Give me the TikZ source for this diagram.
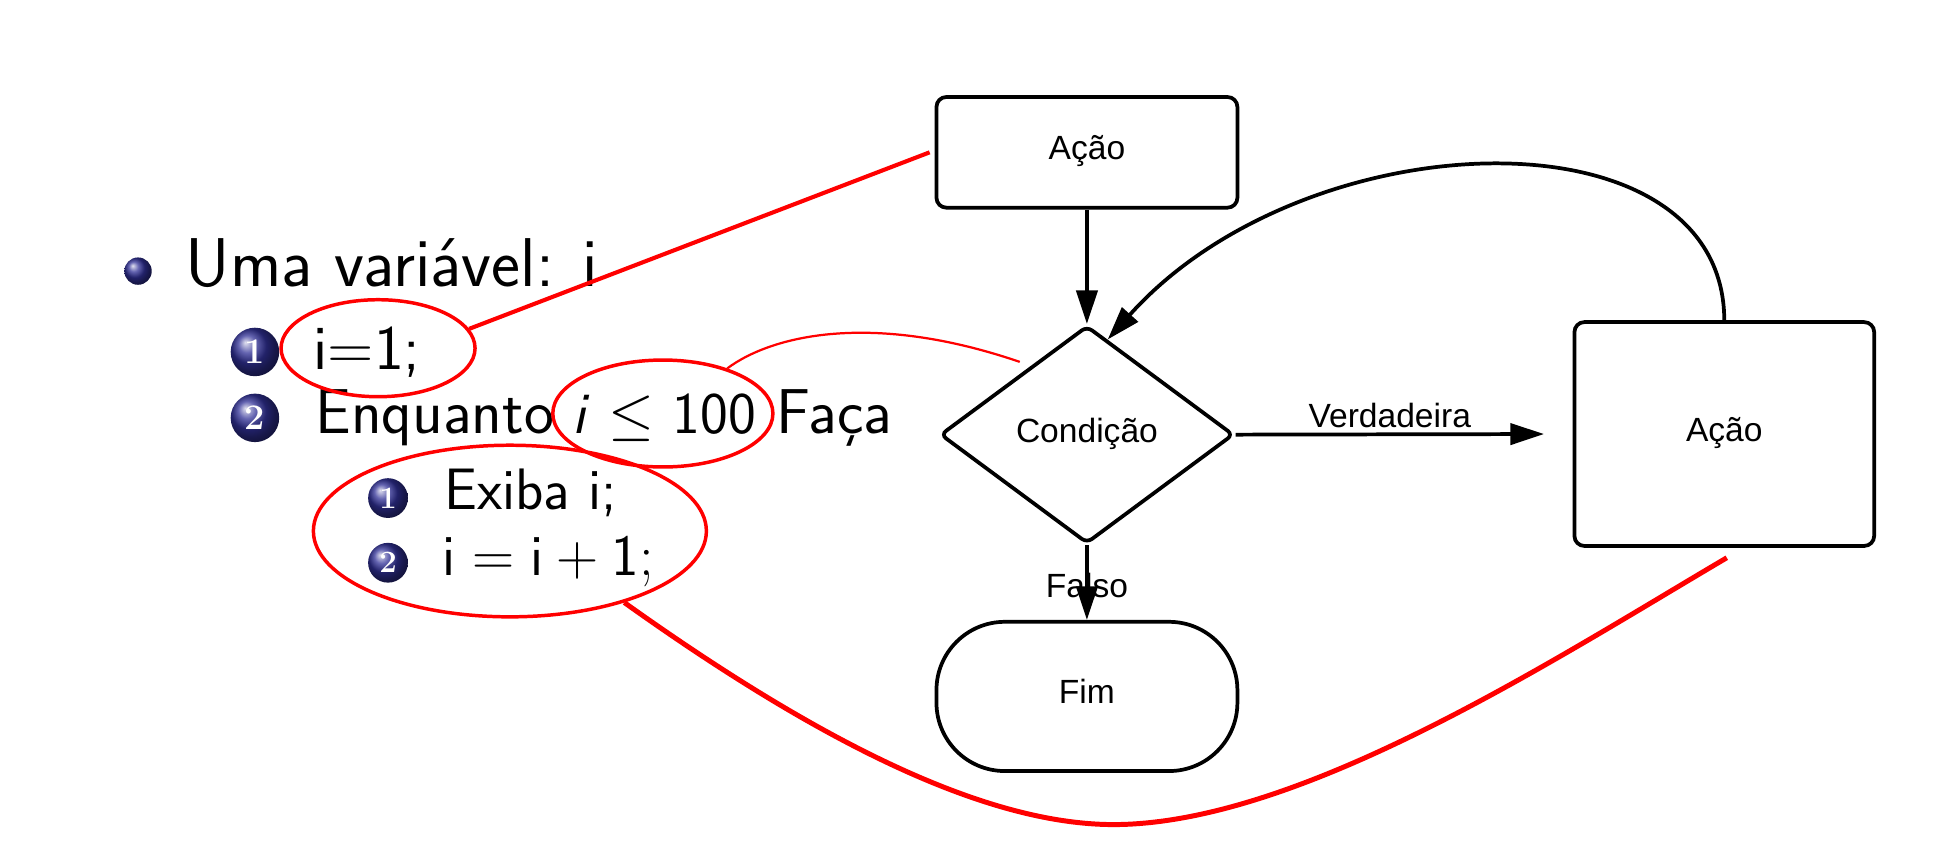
\RequirePackage{fix-cm}
\documentclass[tikz,border=0pt]{standalone}
\usepackage{fontspec}
\newfontfamily\arialf{Liberation Sans}
\usetikzlibrary{shapes.geometric,arrows.meta,calc}
\definecolor{ballblue}{RGB}{48,48,150}
\definecolor{redann}{RGB}{255,0,0}
\begin{document}
\begin{tikzpicture}[x=1pt,y=-1pt,
  flowbox/.style={draw=black, line width=3pt, fill=white, font=\arialf\fontsize{27}{32}\selectfont, inner sep=0pt, text height=20pt, text depth=8pt},
  conn/.style={draw=black, line width=3pt, -{Triangle[length=27pt,width=17pt]}},
  lbl/.style={font=\arialf\fontsize{27}{32}\selectfont, inner sep=1pt},
  lvlA/.style={anchor=base west, inner sep=0pt, font=\sffamily\fontsize{55.5}{64}\selectfont},
  lvlB/.style={anchor=base west, inner sep=0pt, font=\sffamily\fontsize{51}{60}\selectfont},
  lvlM/.style={anchor=base west, inner sep=0pt, font=\sffamily\fontsize{47.5}{56}\selectfont},
  lvlC/.style={anchor=base west, inner sep=0pt, font=\sffamily\fontsize{47}{56}\selectfont},
  dotball/.style={circle, inner sep=0pt, minimum size=22pt, ball color=ballblue},
  bigball/.style={circle, inner sep=0pt, minimum size=39pt, ball color=ballblue, text=white, font=\rmfamily\bfseries\fontsize{29}{29}\selectfont},
  smallball/.style={circle, inner sep=0pt, minimum size=32pt, ball color=ballblue, text=white, font=\rmfamily\bfseries\fontsize{25}{25}\selectfont},
  redring/.style={ellipse, draw=redann, line width=2.8pt, inner sep=0pt},
]
\fill[white] (0,0) rectangle (1568,682);
\useasboundingbox (0,0) rectangle (1568,682);

% left list
\node[dotball] (b0) at (111,218) {};
\node[lvlA] (t1) at (149,230) {Uma variável: i};
\node[bigball] (b1) at (205,283) {1};
\node[lvlB] (t2) at (252,297) {i=1;};
\node[bigball] (b2) at (205,336) {2};
\node[lvlB] (t3) at (253.5,348.5) {Enquanto};
\node[lvlM] (t4) at (460,348.5) {\textsl{i} $\leq$ 100};
\node[lvlB] (t5) at (624,348.5) {Faça};
\node[smallball] (s1) at (312,400.5) {1};
\node[lvlC] (t6) at (357,409.5) {Exiba i;};
\node[smallball] (s2) at (312,452.5) {2};
\node[lvlC] (t7) at (356,463) {$\mathsf{i}=\mathsf{i}+\mathsf{1};$};

% flowchart
\node[flowbox, rounded corners=8pt, minimum width=242pt, minimum height=89pt] (act1) at (874,122.5) {Ação};
\node[flowbox, diamond, aspect=1.35, minimum width=236pt, minimum height=175pt, rounded corners=5pt] (cond) at (874,349.5) {Condição};
\node[flowbox, rounded corners=8pt, minimum width=241pt, minimum height=180pt] (act2) at (1386.5,349) {Ação};
\node[flowbox, rounded corners=55pt, minimum width=242pt, minimum height=120pt] (fim) at (874,560) {Fim};

\coordinate (vtip) at ($(act2.west)+(-23,0)$);
\coordinate (ltip) at ($(cond.north)!0.14!(cond.east)$);
\draw[conn] (act1) -- (cond);
\draw[conn] (cond.east) -- (vtip) node[midway, above, lbl, yshift=3pt] {Verdadeira};
\draw[conn] (cond.south) -- (fim.north) node[midway, lbl, yshift=-2pt] {Falso};
\draw[conn] (act2.north) .. controls (1386,85) and (1050,95) .. (ltip);

% red annotations
\node[redring, minimum width=156pt, minimum height=78pt] (e1) at (304,280) {};
\node[redring, minimum width=177pt, minimum height=86pt] (e2) at (533,332.5) {};
\node[redring, minimum width=316pt, minimum height=138pt] (e3) at (410,427) {};
\coordinate (r1end) at ($(act1.west)+(-4,0)$);
\coordinate (r2end) at (820,291);
\coordinate (r3end) at ($(act2.south)+(2,8)$);
\draw[redann, line width=3.3pt] (e1.12) -- (r1end);
\draw[redann, line width=1.8pt] (e2.35) .. controls (620,270) and (700,250) .. (r2end);
\draw[redann, line width=4pt] (e3.-32) .. controls (650,590) and (790,665) .. (900,663) .. controls (1050,660) and (1250,530) .. (r3end);
\end{tikzpicture}
\end{document}
